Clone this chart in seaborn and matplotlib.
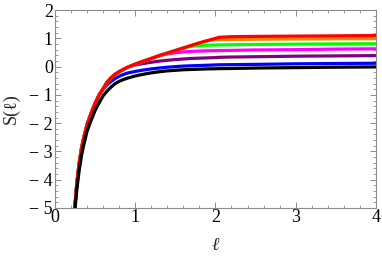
import seaborn as sns
import matplotlib.pyplot as plt
import pandas as pd
from matplotlib.ticker import MultipleLocator

# -- DATA -- #
ell = [0.24, 0.25, 0.27, 0.30, 0.33, 0.36, 0.40, 0.45, 0.50, 0.55, 0.60, 0.65,
       0.70, 0.75, 0.80, 0.85, 0.90, 0.95, 1.0, 1.1, 1.2, 1.3, 1.4, 1.5, 1.6,
       1.7, 1.8, 1.9, 2.0, 2.05, 2.2, 2.5, 3.0, 3.5, 4.0]

s_black = [-5.4, -5.0, -4.4, -3.7, -3.15, -2.75, -2.28, -1.9, -1.55, -1.28, -1.03, -0.86,
           -0.72, -0.60, -0.52, -0.46, -0.41, -0.37, -0.33, -0.27, -0.22, -0.18, -0.15, -0.13, -0.11,
           -0.10, -0.09, -0.08, -0.075, -0.07, -0.065, -0.05, -0.035, -0.02, -0.01]
s_blue = [-5.3, -4.9, -4.2, -3.45, -2.9, -2.5, -2.05, -1.65, -1.3, -1.0, -0.80, -0.64,
          -0.52, -0.42, -0.34, -0.28, -0.23, -0.20, -0.17, -0.12, -0.08, -0.05, -0.02, 0.0, 0.02,
          0.03, 0.04, 0.05, 0.06, 0.065, 0.07, 0.08, 0.10, 0.11, 0.12]
s_purple = [-5.3, -4.9, -4.2, -3.45, -2.9, -2.5, -2.05, -1.65, -1.3, -1.0, -0.78, -0.55,
            -0.39, -0.27, -0.18, -0.10, -0.03, 0.02, 0.06, 0.11, 0.155, 0.195, 0.225, 0.25, 0.27,
            0.29, 0.30, 0.31, 0.32, 0.33, 0.34, 0.35, 0.37, 0.38, 0.39]
s_magenta = [-5.3, -4.9, -4.2, -3.45, -2.9, -2.5, -2.05, -1.65, -1.3, -1.0, -0.78, -0.55,
             -0.39, -0.27, -0.18, -0.10, -0.03, 0.03, 0.09, 0.19, 0.29, 0.39, 0.45, 0.49, 0.52,
             0.54, 0.55, 0.56, 0.565, 0.57, 0.575, 0.59, 0.60, 0.62, 0.63]
s_green = [-5.3, -4.9, -4.2, -3.45, -2.9, -2.5, -2.05, -1.65, -1.3, -1.0, -0.78, -0.55,
           -0.39, -0.27, -0.18, -0.10, -0.03, 0.03, 0.09, 0.19, 0.29, 0.39, 0.48, 0.57, 0.66,
           0.72, 0.745, 0.76, 0.765, 0.77, 0.775, 0.785, 0.795, 0.805, 0.81]
s_orange = [-5.3, -4.9, -4.2, -3.45, -2.9, -2.5, -2.05, -1.65, -1.3, -1.0, -0.78, -0.55,
            -0.39, -0.27, -0.18, -0.10, -0.03, 0.03, 0.09, 0.19, 0.29, 0.39, 0.48, 0.57, 0.66,
            0.75, 0.84, 0.92, 0.95, 0.955, 0.96, 0.97, 0.98, 0.985, 0.99]
s_red = [-5.3, -4.9, -4.2, -3.45, -2.9, -2.5, -2.05, -1.65, -1.3, -1.0, -0.78, -0.55,
         -0.39, -0.27, -0.18, -0.10, -0.03, 0.03, 0.09, 0.19, 0.29, 0.39, 0.48, 0.57, 0.66,
         0.75, 0.84, 0.92, 1.00, 1.04, 1.06, 1.07, 1.08, 1.09, 1.10]

curves = [
    (s_blue, (0, 0, 1)),
    (s_purple, (0.5, 0, 0.5)),
    (s_magenta, (1, 0, 1)),
    (s_green, (0, 1, 0)),
    (s_orange, (1, 0.5, 0)),
    (s_red, (1, 0, 0)),
    (s_black, (0, 0, 0)),
]

# -- VISUALIZATION -- #
sns.set_style('ticks')
plt.rcParams['font.family'] = ['Liberation Serif', 'DejaVu Serif']

fig = plt.figure(figsize=(3.82, 2.59), dpi=100)
ax = fig.add_axes([0.144, 0.197, 0.84, 0.764])

for vals, col in curves:
    df = pd.DataFrame({'ell': ell, 'S': vals})
    sns.lineplot(data=df, x='ell', y='S', color=col, lw=2.3, ax=ax,
                 sort=False, estimator=None)

ax.set_xlim(0, 4)
ax.set_ylim(-5, 2)
ax.xaxis.set_major_locator(MultipleLocator(1))
ax.xaxis.set_minor_locator(MultipleLocator(0.2))
ax.yaxis.set_major_locator(MultipleLocator(1))
ax.yaxis.set_minor_locator(MultipleLocator(0.2))

frame = '#8c8c8c'
for sp in ax.spines.values():
    sp.set_color(frame)
    sp.set_linewidth(0.8)
ax.tick_params(which='both', direction='in', top=True, right=True,
               color=frame, labelsize=13, labelcolor='black')
ax.tick_params(axis='x', pad=1)
ax.tick_params(axis='y', pad=1.5)
ax.tick_params(which='major', length=4, width=0.7)
ax.tick_params(which='minor', length=2, width=0.6)
ax.set_yticks(range(-5, 3))
ax.set_yticklabels(['\u2212 5', '\u2212 4', '\u2212 3', '\u2212 2', '\u2212 1', '0', '1', '2'])

ax.set_xlabel('\u2113', fontsize=13, style='italic', labelpad=8)
ax.set_ylabel('S(\u2113)', fontsize=13, labelpad=7)

plt.savefig('out.png', dpi=100)
